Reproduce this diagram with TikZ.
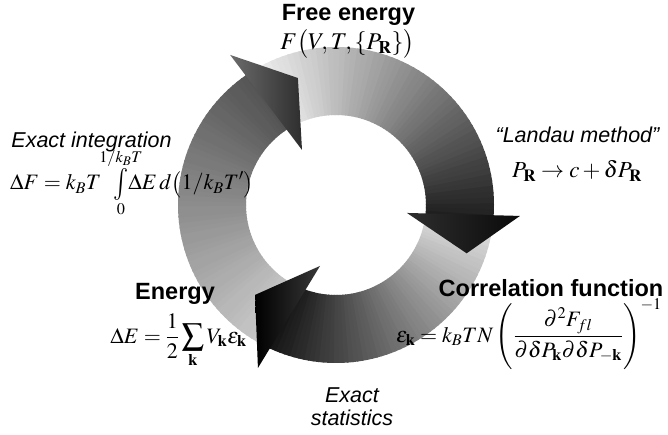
\documentclass[tikz,border=0pt]{standalone}
\usepackage{amsmath}
\usepackage{mathptmx}
\usepackage{fontspec}
\setmainfont{Liberation Serif}
\setsansfont{Liberation Sans}

\newcommand{\bigint}{\mathop{\vcenter{\hbox{\scalebox{1.15}[1.45]{$\int$}}}}}
\newcommand{\limclap}[1]{\makebox[0pt]{$\scriptstyle #1$}}

\tikzset{
  boldlabel/.style={inner sep=0pt, font=\sffamily\bfseries\fontsize{23.5}{28}\selectfont},
  itlabel/.style={inner sep=0pt, font=\sffamily\itshape\fontsize{21.5}{23}\selectfont},
  formula/.style={inner sep=0pt, font=\fontsize{22}{26}\selectfont},
}

\begin{document}
\begin{tikzpicture}[x=1pt,y=1pt]
  \useasboundingbox (0,0) rectangle (668,434);
  \fill[white] (0,0) rectangle (668,434);

  % ring of three shaded arrows, centre of ring
  \begin{scope}[shift={(336,229)}]
    \foreach \s/\e/\cs/\ce in {244/121/80/32, 121/-8/94/10, -8/-116/87/7}{
      \foreach \i in {0,...,59}{
        \pgfmathsetmacro\a{\s+(\e-\s)*\i/60}
        \pgfmathsetmacro\b{\s+(\e-\s)*(\i+1.3)/60}
        \pgfmathtruncatemacro\g{\cs+(\ce-\cs)*\i/60}
        \fill[white!\g!black] (\a:158) arc[start angle=\a, end angle=\b, radius=158]
          -- (\b:90) arc[start angle=\b, end angle=\a, radius=90] -- cycle;
      }
    }
    % arrow heads
    \shade[left color=black!58, right color=black!82]
      (125.2:183.7) -- (106.7:132.6) -- (121.7:64.7) -- cycle;
    \shade[left color=black!82, right color=black!96]
      (-3.4:184.3) -- (-20.3:139.3) -- (-6.4:71.4) -- cycle;
    \shade[left color=black, right color=black!78]
      (244.4:180.7) -- (228:121) -- (255.3:63) -- cycle;
  \end{scope}

  % labels
  \node[boldlabel, anchor=base] (freetitle) at (348.5,413) {Free energy};
  \node[formula, anchor=base, font=\fontsize{24}{28}\selectfont] (freeeq) at (347.5,384)
    {$F\bigl(V,T,\{P_{\mathbf R}\}\bigr)$};

  \node[itlabel, anchor=base] (integtitle) at (91.5,286) {Exact integration};
  \node[formula, anchor=base west] (integeq) at (10,244)
    {$\displaystyle \Delta F=k_BT\;\;\bigint\limits_{\limclap{0}}^{\limclap{1/k_BT}}\!\Delta E\,d\bigl(1/k_BT'\bigr)$};

  \node[itlabel, anchor=base] (landautitle) at (577.5,291) {“Landau method”};
  \node[formula, anchor=base, font=\fontsize{23}{27}\selectfont] (landaueq) at (577,256)
    {$P_{\mathbf R}\rightarrow c+\delta P_{\mathbf R}$};

  \node[boldlabel, anchor=base] (energytitle) at (175,135) {Energy};
  \node[formula, anchor=base] (energyeq) at (178.5,91)
    {$\displaystyle \Delta E=\frac{1}{2}\sum_{\mathbf k}V_{\mathbf k}\varepsilon_{\mathbf k}$};

  \node[boldlabel, anchor=base] (corrtitle) at (551,138) {Correlation function};
  \node[formula, anchor=base] (correq) at (529,92)
    {$\displaystyle \varepsilon_{\mathbf k}=k_BTN\left(\frac{\partial^2F_{fl}}{\partial\delta P_{\mathbf k}\partial\delta P_{-\mathbf k}}\right)^{-1}$};

  \node[itlabel, align=center] (stattext) at (352,27) {Exact\\statistics};
\end{tikzpicture}
\end{document}
